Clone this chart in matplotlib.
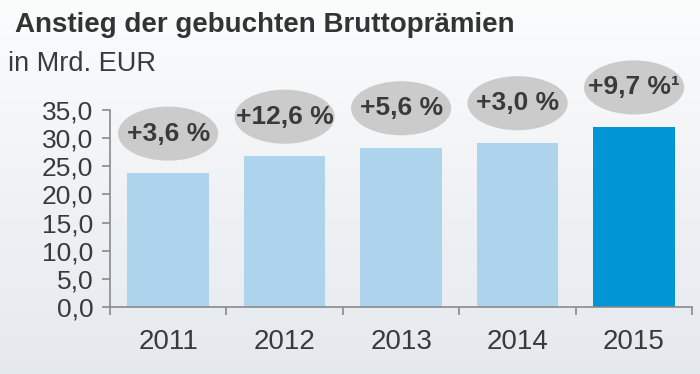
import numpy as np
import matplotlib
matplotlib.use('Agg')
import matplotlib.pyplot as plt
from matplotlib.patches import Ellipse

plt.rcParams['font.family'] = ['Liberation Sans', 'DejaVu Sans']

# Daten
years = ['2011', '2012', '2013', '2014', '2015']
values = [23.8, 26.8, 28.3, 29.2, 32.0]
growth = ['+3,6 %', '+12,6 %', '+5,6 %', '+3,0 %', '+9,7 %\u00b9']
yticks = [0, 5, 10, 15, 20, 25, 30, 35]
ytick_labels = ['0,0', '5,0', '10,0', '15,0', '20,0', '25,0', '30,0', '35,0']

light_blue = '#aed3ec'
dark_blue = '#0096d6'
text_col = '#3a3a3a'

fig = plt.figure(figsize=(7, 3.74), dpi=100)

# Hintergrund mit Verlauf
bg = fig.add_axes([0, 0, 1, 1], zorder=-10)
grad = np.linspace(0, 1, 256).reshape(-1, 1)
top = np.array([0.985, 0.988, 0.99])
bottom = np.array([0.898, 0.914, 0.933])
img = top + (bottom - top) * grad[:, :, None]
bg.imshow(img, aspect='auto', extent=[0, 1, 0, 1])
bg.axis('off')

ax = fig.add_axes([0.157, 0.179, 0.832, 0.527])
ax.patch.set_alpha(0)

x = np.arange(len(years))
colors = [light_blue] * (len(years) - 1) + [dark_blue]
ax.bar(x, values, width=0.7, color=colors, zorder=2)

# Ellipsen mit Wachstumsraten
for i, v in enumerate(values):
    e = Ellipse((i, v + 7.0), 0.86, 9.6, facecolor='#cbcbcb', edgecolor='none',
                clip_on=False, zorder=3)
    ax.add_patch(e)
    ax.text(i, v + 7.0, growth[i], ha='center', va='center', fontsize=19,
            fontweight='bold', color=text_col, zorder=4, clip_on=False)

ax.set_xlim(-0.5, len(years) - 0.5)
ax.set_ylim(0, 35)
ax.set_yticks(yticks)
ax.set_yticklabels(ytick_labels, fontsize=19, color=text_col)
ax.set_xticks(x)
ax.set_xticklabels(years, fontsize=20, color=text_col)
ax.set_xticks(np.arange(-0.5, len(years)), minor=True)
ax.tick_params(axis='x', which='major', length=0, pad=16)
ax.tick_params(axis='x', which='minor', length=6, width=1.2, color='#8a8a8a', direction='out')
ax.tick_params(axis='y', length=6, width=1.2, color='#8a8a8a', pad=6)

for s in ['top', 'right']:
    ax.spines[s].set_visible(False)
for s in ['left', 'bottom']:
    ax.spines[s].set_color('#8a8a8a')
    ax.spines[s].set_linewidth(1.2)

fig.text(0.021, 0.914, 'Anstieg der gebuchten Bruttoprämien', fontsize=20,
         fontweight='bold', color='#333333', va='baseline')
fig.text(0.011, 0.81, 'in Mrd. EUR', fontsize=19.5, color=text_col, va='baseline')

fig.savefig('out.png', dpi=100)
